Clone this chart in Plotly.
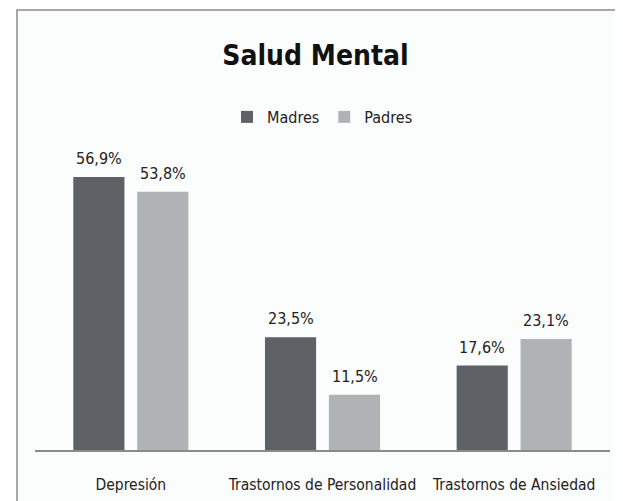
import plotly.graph_objects as go

# datos del gráfico
categorias = ["Depresión", "Trastornos de Personalidad", "Trastornos de Ansiedad"]
madres = [56.9, 23.5, 17.6]
padres = [53.8, 11.5, 23.1]

fuente = "DejaVu Sans Condensed, Liberation Sans Narrow, Arial Narrow, sans-serif"

fig = go.Figure()
fig.add_trace(go.Bar(x=categorias, y=madres, name="Madres",
                     marker=dict(color="#5e6165", line=dict(width=0))))
fig.add_trace(go.Bar(x=categorias, y=padres, name="Padres",
                     marker=dict(color="#b0b3b6", line=dict(width=0))))

# etiquetas de valor encima de cada barra
for serie, desplaz in ((madres, -32), (padres, 32)):
    for cat, val in zip(categorias, serie):
        fig.add_annotation(x=cat, y=val, text=f"{val:.1f}%".replace(".", ","),
                           showarrow=False, xshift=desplaz, yanchor="bottom", yshift=7,
                           font=dict(family=fuente, size=16, color="#222222"))

# marco del gráfico
fig.add_shape(type="rect", xref="paper", yref="paper",
              x0=-0.0313, x1=1.2, y0=-0.6, y1=1.4667,
              line=dict(color="#8a8a8a", width=1.5), fillcolor="#fbfcfc", layer="below")

# la página deja 8px de margen en el body, por eso 615x493
fig.update_layout(
    width=615, height=493,
    margin=dict(l=27, r=13, t=142, b=51, autoexpand=False),
    paper_bgcolor="white", plot_bgcolor="rgba(0,0,0,0)",
    title=dict(text="<b>Salud Mental</b>", x=0.5, xanchor="center", y=0.905, yanchor="middle",
               font=dict(family=fuente, size=28, color="#111111")),
    legend=dict(orientation="h", x=0.5, xanchor="center", y=1.11, yanchor="middle",
                font=dict(family=fuente, size=16, color="#222222"),
                itemwidth=30, bgcolor="rgba(0,0,0,0)"),
    barmode="group", bargap=0.333, bargroupgap=0.2,
    font=dict(family=fuente, size=16, color="#222222"),
    showlegend=True,
)
fig.update_xaxes(showline=True, linecolor="#8a8a8a", linewidth=2, ticks="", automargin=False,
                 ticklabelstandoff=19, tickfont=dict(family=fuente, size=15.5, color="#222222"))
fig.update_yaxes(range=[0, 62.5], showgrid=False, showticklabels=False, zeroline=False,
                 automargin=False)

fig.write_html("out.html")
